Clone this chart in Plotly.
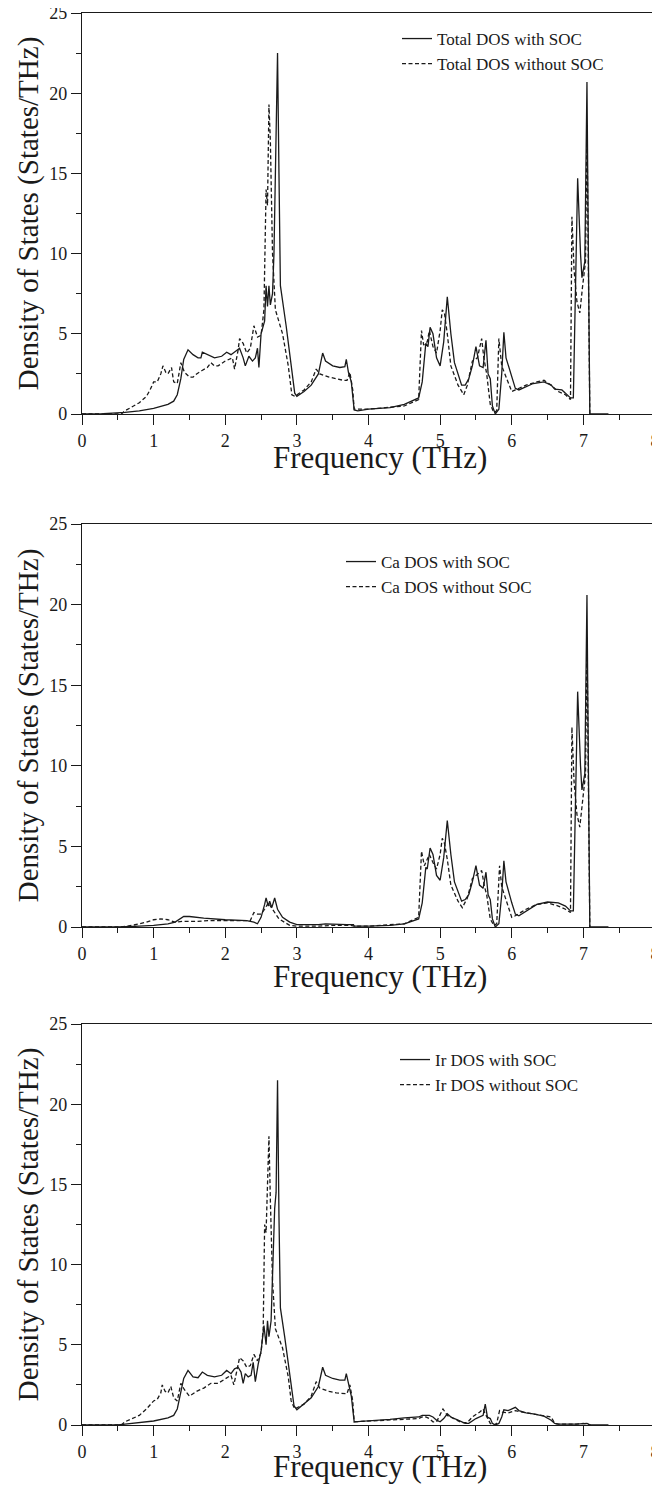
import plotly.graph_objects as go

# ---------------- data (frequency THz, DOS states/THz) ----------------
total_soc = [(0.0,0.0),(0.3,0.02),(0.6,0.1),(0.8,0.2),(1.0,0.35),(1.2,0.6),(1.28,0.8),(1.33,1.2),(1.38,2.2),
 (1.42,3.4),(1.48,4.0),(1.55,3.7),(1.62,3.5),(1.66,3.5),(1.68,3.85),(1.75,3.7),(1.85,3.5),(1.95,3.6),(2.02,3.85),
 (2.08,3.7),(2.15,3.95),(2.2,4.1),(2.25,3.5),(2.28,3.0),(2.33,3.6),(2.38,3.3),(2.42,3.5),(2.45,4.1),(2.47,2.9),
 (2.5,5.0),(2.55,5.8),(2.57,8.0),(2.59,6.7),(2.61,8.0),(2.63,6.8),(2.66,7.5),(2.68,10.0),(2.70,15.0),(2.73,22.5),
 (2.75,15.0),(2.77,8.0),(2.85,5.5),(2.92,3.0),(2.97,1.3),(3.0,1.1),(3.1,1.4),(3.2,1.8),(3.3,2.5),(3.36,3.8),
 (3.4,3.3),(3.5,3.0),(3.6,2.9),(3.67,2.95),(3.69,3.4),(3.72,2.6),(3.76,2.0),(3.8,0.25),(3.85,0.2),(4.0,0.3),
 (4.3,0.4),(4.5,0.6),(4.7,1.0),(4.75,2.0),(4.8,4.4),(4.83,4.2),(4.86,5.4),(4.9,5.0),(4.95,3.5),(5.0,3.0),
 (5.05,4.5),(5.1,7.3),(5.15,5.0),(5.2,3.2),(5.3,1.8),(5.35,1.8),(5.4,2.2),(5.45,3.0),(5.5,4.2),(5.55,3.0),
 (5.6,2.9),(5.64,4.6),(5.67,2.5),(5.7,2.2),(5.73,0.5),(5.77,0.0),(5.82,0.3),(5.86,2.5),(5.89,5.1),(5.92,3.5),
 (6.0,2.4),(6.05,1.6),(6.1,1.5),(6.2,1.7),(6.3,1.9),(6.45,2.0),(6.55,1.8),(6.6,1.55),(6.7,1.5),(6.75,1.3),
 (6.82,1.0),(6.86,1.0),(6.89,8.0),(6.92,14.7),(6.96,10.0),(6.98,8.5),(7.02,9.5),(7.05,20.7),(7.07,10.0),
 (7.09,0.0),(7.35,0.0)]

total_nosoc = [(0.0,0.0),(0.55,0.0),(0.6,0.2),(0.8,0.7),(0.9,1.1),(0.95,1.5),(1.0,2.0),(1.05,2.0),(1.1,2.5),
 (1.13,3.0),(1.17,2.6),(1.2,2.5),(1.25,2.9),(1.28,2.0),(1.33,1.9),(1.38,3.2),(1.43,2.6),(1.5,2.3),(1.55,2.3),
 (1.6,2.5),(1.67,2.7),(1.75,2.9),(1.8,3.2),(1.85,3.0),(1.9,3.0),(2.0,3.3),(2.1,3.5),(2.13,2.8),(2.18,4.0),
 (2.2,4.7),(2.25,4.4),(2.3,3.8),(2.35,4.1),(2.4,5.5),(2.45,4.8),(2.5,4.9),(2.54,6.5),(2.56,13.5),(2.57,14.0),
 (2.59,13.0),(2.61,19.3),(2.63,17.0),(2.66,10.0),(2.7,6.5),(2.8,5.0),(2.88,3.0),(2.93,1.2),(2.97,1.1),(3.1,1.5),
 (3.2,2.0),(3.27,2.8),(3.32,2.5),(3.45,2.3),(3.55,2.2),(3.65,2.1),(3.7,2.1),(3.74,2.6),(3.78,1.5),(3.8,0.3),
 (4.0,0.3),(4.5,0.5),(4.7,0.9),(4.74,5.2),(4.77,4.3),(4.82,4.5),(4.85,5.2),(4.9,4.2),(4.95,3.8),(5.0,5.2),
 (5.03,6.5),(5.06,6.3),(5.1,5.0),(5.15,3.0),(5.25,1.8),(5.33,1.2),(5.38,1.8),(5.45,3.3),(5.52,3.5),(5.58,4.7),
 (5.61,3.5),(5.65,2.5),(5.7,0.6),(5.75,0.1),(5.79,0.2),(5.82,4.7),(5.86,3.0),(5.95,2.0),(6.0,1.4),(6.05,1.5),
 (6.2,1.8),(6.35,2.0),(6.45,2.1),(6.55,1.8),(6.65,1.4),(6.75,1.2),(6.82,0.9),(6.84,12.3),(6.87,9.0),(6.91,7.0),
 (6.95,6.3),(6.99,8.0),(7.03,9.5),(7.05,18.0),(7.07,10.0),(7.09,0.0)]

ca_soc = [(0.0,0.0),(0.5,0.0),(0.8,0.05),(1.0,0.1),(1.2,0.2),(1.3,0.3),(1.42,0.65),(1.5,0.65),(1.7,0.55),
 (2.0,0.45),(2.3,0.4),(2.4,0.3),(2.45,0.2),(2.5,0.6),(2.55,1.4),(2.57,1.8),(2.6,1.3),(2.62,1.6),(2.65,1.2),
 (2.69,1.8),(2.73,1.1),(2.8,0.6),(2.9,0.3),(3.0,0.15),(3.3,0.15),(3.4,0.2),(3.7,0.15),(3.79,0.15),(3.8,0.05),
 (4.0,0.05),(4.3,0.1),(4.5,0.2),(4.7,0.5),(4.75,1.5),(4.8,3.7),(4.82,3.6),(4.86,4.9),(4.9,4.5),(4.95,3.2),
 (5.0,2.9),(5.05,4.3),(5.1,6.6),(5.15,4.5),(5.2,2.8),(5.3,1.6),(5.35,1.7),(5.4,2.0),(5.45,2.8),(5.5,3.8),
 (5.55,2.6),(5.6,2.4),(5.64,3.4),(5.67,2.0),(5.7,1.7),(5.73,0.5),(5.77,0.0),(5.82,0.2),(5.86,2.0),(5.89,4.1),
 (5.92,2.8),(6.0,1.5),(6.05,0.8),(6.1,0.7),(6.2,1.0),(6.35,1.4),(6.5,1.55),(6.65,1.5),(6.75,1.3),(6.82,1.0),
 (6.86,1.0),(6.89,8.0),(6.92,14.6),(6.96,10.0),(6.98,8.5),(7.02,9.5),(7.05,20.6),(7.07,10.0),(7.09,0.0),(7.35,0.0)]

ca_nosoc = [(0.0,0.0),(0.55,0.0),(0.7,0.1),(0.9,0.3),(1.0,0.45),(1.1,0.5),(1.2,0.45),(1.3,0.3),(1.4,0.35),
 (1.6,0.35),(1.8,0.4),(2.0,0.4),(2.2,0.4),(2.35,0.4),(2.4,0.9),(2.45,0.8),(2.5,0.8),(2.55,1.1),(2.6,1.5),
 (2.63,1.3),(2.67,1.0),(2.75,0.5),(2.9,0.1),(3.0,0.05),(3.3,0.05),(3.5,0.1),(3.75,0.1),(3.8,0.05),(4.0,0.05),
 (4.5,0.2),(4.7,0.6),(4.74,4.7),(4.78,3.8),(4.85,4.5),(4.9,4.0),(4.95,3.6),(5.0,4.5),(5.03,5.5),(5.06,5.2),
 (5.1,4.2),(5.15,2.6),(5.25,1.6),(5.31,1.2),(5.38,1.8),(5.45,3.0),(5.52,3.3),(5.58,3.5),(5.62,2.5),(5.65,2.0),
 (5.7,0.5),(5.75,0.1),(5.79,0.2),(5.83,3.8),(5.86,2.5),(5.95,1.2),(6.0,0.6),(6.05,0.7),(6.2,1.1),(6.35,1.4),
 (6.5,1.5),(6.65,1.3),(6.75,1.1),(6.82,0.9),(6.84,12.4),(6.87,9.0),(6.91,7.0),(6.95,6.2),(6.99,8.0),(7.03,9.5),
 (7.05,18.0),(7.07,10.0),(7.09,0.0)]

ir_soc = [(0.0,0.0),(0.5,0.0),(0.6,0.05),(1.0,0.25),(1.2,0.45),(1.28,0.6),(1.33,1.0),(1.38,2.0),(1.42,2.9),
 (1.48,3.4),(1.55,3.0),(1.62,2.95),(1.68,3.3),(1.75,3.1),(1.85,3.0),(1.95,3.1),(2.02,3.4),(2.08,3.2),(2.13,3.5),
 (2.18,3.6),(2.22,3.3),(2.25,2.6),(2.28,3.2),(2.32,3.0),(2.36,3.1),(2.39,3.9),(2.42,2.7),(2.46,3.8),(2.5,4.6),
 (2.54,6.2),(2.57,5.0),(2.59,6.5),(2.61,5.5),(2.64,6.5),(2.67,10.0),(2.69,13.5),(2.71,14.5),(2.73,21.5),
 (2.75,13.0),(2.77,7.3),(2.83,5.5),(2.9,3.0),(2.96,1.2),(3.0,0.95),(3.1,1.3),(3.2,1.7),(3.3,2.4),(3.36,3.6),
 (3.4,3.1),(3.5,2.9),(3.6,2.8),(3.67,2.8),(3.69,3.2),(3.72,2.5),(3.76,1.8),(3.8,0.2),(4.0,0.25),(4.3,0.35),
 (4.5,0.45),(4.7,0.5),(4.75,0.6),(4.85,0.6),(4.9,0.5),(4.95,0.3),(5.0,0.2),(5.05,0.4),(5.1,0.7),(5.15,0.5),
 (5.25,0.3),(5.35,0.1),(5.4,0.1),(5.5,0.4),(5.6,0.6),(5.63,1.3),(5.66,0.5),(5.7,0.4),(5.73,0.1),(5.77,0.0),
 (5.82,0.1),(5.86,0.5),(5.89,0.95),(5.95,0.9),(6.05,1.1),(6.1,0.9),(6.2,0.75),(6.3,0.7),(6.45,0.55),(6.55,0.3),
 (6.6,0.1),(6.65,0.05),(6.8,0.05),(6.9,0.05),(7.05,0.1),(7.08,0.05),(7.1,0.0),(7.35,0.0)]

ir_nosoc = [(0.0,0.0),(0.55,0.0),(0.6,0.2),(0.8,0.6),(0.9,1.0),(1.0,1.5),(1.05,1.6),(1.1,2.0),(1.12,2.5),
 (1.16,2.1),(1.2,2.0),(1.24,2.4),(1.28,1.7),(1.33,1.5),(1.38,2.6),(1.43,2.2),(1.5,1.8),(1.6,2.1),(1.7,2.3),
 (1.8,2.6),(1.9,2.6),(2.0,2.9),(2.08,3.1),(2.12,2.5),(2.17,3.5),(2.2,4.2),(2.25,4.0),(2.3,3.6),(2.35,3.7),
 (2.4,4.4),(2.45,4.0),(2.5,4.5),(2.53,6.0),(2.55,12.5),(2.57,12.0),(2.59,15.5),(2.61,18.0),(2.63,14.0),
 (2.66,9.0),(2.7,6.0),(2.8,4.8),(2.88,3.0),(2.92,1.5),(2.97,1.0),(3.1,1.3),(3.2,1.8),(3.27,2.7),(3.32,2.3),
 (3.45,2.1),(3.55,2.0),(3.7,1.95),(3.74,2.5),(3.78,1.5),(3.8,0.2),(4.0,0.25),(4.5,0.35),(4.7,0.4),(4.75,0.5),
 (4.8,0.5),(4.85,0.4),(4.9,0.2),(4.95,0.2),(5.0,0.7),(5.04,1.0),(5.1,0.6),(5.2,0.35),(5.3,0.15),(5.38,0.15),
 (5.45,0.5),(5.55,0.8),(5.6,1.0),(5.63,0.7),(5.67,0.4),(5.7,0.1),(5.75,0.0),(5.79,0.1),(5.83,0.9),(5.87,0.8),
 (5.95,0.75),(6.05,0.9),(6.15,0.8),(6.3,0.7),(6.45,0.6),(6.55,0.5),(6.6,0.1),(6.65,0.05),(6.9,0.05),(7.0,0.1),
 (7.05,0.05),(7.1,0.0)]

panel_labels = [("Total DOS with SOC", "Total DOS without SOC"),
                ("Ca DOS with SOC", "Ca DOS without SOC"),
                ("Ir DOS with SOC", "Ir DOS without SOC")]
panel_series = [(total_soc, total_nosoc), (ca_soc, ca_nosoc), (ir_soc, ir_nosoc)]
x_ticks = [0, 1, 2, 3, 4, 5, 6, 7, 8]
y_ticks = [0, 5, 10, 15, 20, 25]
x_title = "Frequency (THz)"
y_title = "Density of States (States/THz)"

# ---------------- layout (page pixel targets; page body has an 8px margin) ----------------
PAGE_W, PAGE_H, BODY = 660, 1485, 8
W, H = PAGE_W - BODY, PAGE_H - BODY
FONT = "Liberation Serif"
INK = "#1a1a1a"

def fx(px):            # page x px -> paper fraction
    return (px - BODY) / W

def fy(px):            # page y px -> paper fraction
    return 1 - (px - BODY) / H

x_dom = [fx(82), fx(655)]
panel_px = [(13, 414), (524, 927), (1024, 1425)]      # (top, bottom) page px
legend_px = [(397, 21), (341, 544), (395, 1042)]      # (left, top) page px
xtitle_px = [457, 976, 1466]                          # centre y of x titles, page px

fig = go.Figure()
layout = dict(template="none", width=W, height=H,
              margin=dict(l=0, r=0, t=0, b=0, autoexpand=False),
              paper_bgcolor="white", plot_bgcolor="white",
              font=dict(family=FONT, color=INK), showlegend=True)
annotations = []

for i, ((soc, nosoc), (lab1, lab2), (top, bot)) in enumerate(zip(panel_series, panel_labels, panel_px)):
    sfx = "" if i == 0 else str(i + 1)
    leg = "legend" if i == 0 else f"legend{i+1}"
    fig.add_trace(go.Scatter(x=[p[0] for p in soc], y=[p[1] for p in soc], mode="lines",
                             name=lab1, line=dict(color=INK, width=1.3),
                             xaxis="x" + sfx, yaxis="y" + sfx, legend=leg))
    fig.add_trace(go.Scatter(x=[p[0] for p in nosoc], y=[p[1] for p in nosoc], mode="lines",
                             name=lab2, line=dict(color=INK, width=1.3, dash="4px,2.5px"),
                             xaxis="x" + sfx, yaxis="y" + sfx, legend=leg))
    layout["xaxis" + sfx] = dict(
        domain=x_dom, anchor="y" + sfx, range=[0, 8], tickvals=x_ticks, automargin=False,
        ticklabeloverflow="allow",
        ticks="outside", ticklen=10, tickwidth=1, tickcolor=INK,
        minor=dict(dtick=0.5, tick0=0, ticks="outside", ticklen=5, tickcolor=INK),
        showline=True, linecolor=INK, linewidth=1.2, mirror=True,
        showgrid=False, zeroline=False,
        tickfont=dict(family=FONT, size=18, color=INK))
    layout["yaxis" + sfx] = dict(
        domain=[fy(bot), fy(top)], anchor="x" + sfx, range=[0, 25], tickvals=y_ticks, automargin=False,
        ticklabeloverflow="allow",
        ticks="outside", ticklen=10, tickwidth=1, tickcolor=INK,
        minor=dict(dtick=2.5, tick0=0, ticks="outside", ticklen=5, tickcolor=INK),
        showline=True, linecolor=INK, linewidth=1.2, mirror=True,
        showgrid=False, zeroline=False,
        tickfont=dict(family=FONT, size=18, color=INK),
        title=dict(text=y_title, font=dict(family=FONT, size=29, color=INK), standoff=2))
    annotations.append(dict(text=x_title, xref="paper", yref="paper",
                            x=fx(380), y=fy(xtitle_px[i]), xanchor="center", yanchor="middle",
                            showarrow=False, font=dict(family=FONT, size=31, color=INK)))
    lx, ly = legend_px[i]
    layout[leg] = dict(x=fx(lx), y=fy(ly), xanchor="left", yanchor="top",
                       bgcolor="rgba(0,0,0,0)", borderwidth=0,
                       font=dict(family=FONT, size=17, color=INK),
                       tracegroupgap=0, itemwidth=30)

layout["annotations"] = annotations
fig.update_layout(**layout)

# let the top tick label ("25") spill into the page margin instead of being clipped
show_overflow = ("document.querySelectorAll('svg.main-svg').forEach(function(s){"
                 "s.style.overflow='visible';});")
fig.write_html("out.html", post_script=show_overflow)
